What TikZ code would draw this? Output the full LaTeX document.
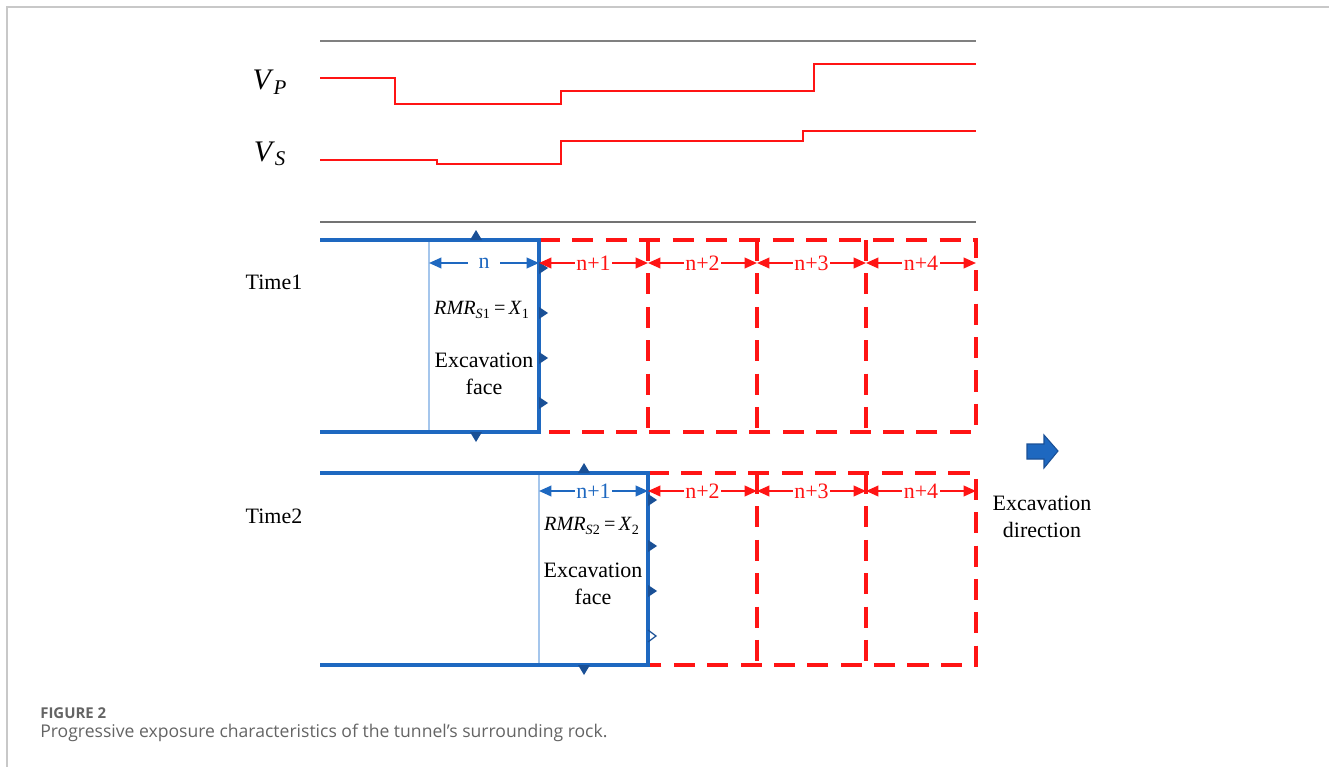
\documentclass[tikz,border=0pt]{standalone}
\usepackage{fontspec}
\setmainfont{Liberation Serif}
\newfontfamily\capfont{Open Sans}
\usetikzlibrary{arrows.meta}

\definecolor{rockblue}{RGB}{30,104,192}
\definecolor{tickblue}{RGB}{26,80,150}
\definecolor{paleblue}{RGB}{165,198,236}
\definecolor{wavered}{RGB}{255,20,20}
\definecolor{framegray}{RGB}{200,200,200}
\definecolor{capgray}{RGB}{100,100,100}

\tikzset{
  solidwall/.style={rockblue, line width=1.75pt},
  thinwall/.style={paleblue, line width=0.8pt},
  dashwall/.style={wavered, line width=1.85pt, dash pattern=on 12pt off 7pt},
  wave/.style={wavered, line width=1.5pt},
  dimblue/.style={rockblue, line width=1.1pt, {Triangle[length=7pt,width=6pt]}-{Triangle[length=7pt,width=6pt]}},
  dimred/.style={wavered, line width=1.1pt, {Triangle[length=7pt,width=6pt]}-{Triangle[length=7pt,width=6pt]}},
  dimlabel/.style={fill=white, inner sep=1pt, font=\fontsize{12.5}{14}\selectfont},
  lbl/.style={font=\fontsize{12.5}{15.3}\selectfont, align=center},
  rmrlbl/.style={inner sep=0pt, font=\fontsize{11.5}{13}\selectfont},
}

\begin{document}
\begin{tikzpicture}[x=0.02cm, y=-0.02cm]
  \useasboundingbox (0,0) rectangle (1329,767);
  % frame of the figure panel
  \draw[framegray, line width=1pt] (7,767) -- (7,7) -- (1329,7);

  % wave velocity curves
  \draw[gray, line width=0.6pt] (320,41) -- (976,41);
  \draw[gray!90!black, line width=1.4pt] (320,222) -- (976,222);
  \node (VP) at (270,82) {\fontsize{17}{20}\selectfont\textit{V}\textsubscript{\textit{P}}};
  \node (VS) at (270,154) {\fontsize{17}{20}\selectfont\textit{V}\textsubscript{\textit{S}}};
  \draw[wave] (320,78) -- (395,78) -- (395,104) -- (561,104) -- (561,91) -- (814,91) -- (814,64) -- (976,64);
  \draw[wave] (320,160) -- (437,160) -- (437,164) -- (561,164) -- (561,141) -- (803,141) -- (803,131) -- (976,131);

  % grid of excavation rounds
  \foreach \i/\x in {0/320,1/429,2/539,3/648,4/757,5/866,6/976} {
    \coordinate (top1-\i) at (\x,240); \coordinate (bot1-\i) at (\x,432); \coordinate (dim1-\i) at (\x,263);
    \coordinate (top2-\i) at (\x,473); \coordinate (bot2-\i) at (\x,665); \coordinate (dim2-\i) at (\x,491);
  }

  % Time1
  \node[lbl] (time1) at (274,282) {Time1};
  \draw[thinwall] (top1-1) -- (bot1-1);
  \draw[dashwall] (top1-2) -- (top1-6) -- (bot1-6) -- (bot1-2);
  \foreach \i in {3,4,5} \draw[dashwall] (top1-\i) -- (bot1-\i);
  \draw[solidwall] (top1-0) -- (top1-2) -- (bot1-2) -- (bot1-0);
  \fill[tickblue] (470,240) -- (476,230) -- (482,240) -- cycle;
  \fill[tickblue] (470,432) -- (476,442) -- (482,432) -- cycle;
  \foreach \y in {268,313,358,403} \fill[tickblue] (539,\y-6) -- (548,\y) -- (539,\y+6) -- cycle;
  \draw[dimblue] (dim1-1) -- node[dimlabel, text=rockblue, inner xsep=6pt] {n} (dim1-2);
  \draw[dimred] (dim1-2) -- node[dimlabel, text=wavered] {n+1} (dim1-3);
  \draw[dimred] (dim1-3) -- node[dimlabel, text=wavered] {n+2} (dim1-4);
  \draw[dimred] (dim1-4) -- node[dimlabel, text=wavered] {n+3} (dim1-5);
  \draw[dimred] (dim1-5) -- node[dimlabel, text=wavered] {n+4} (dim1-6);
  \node[rmrlbl] (rmr1) at (482,310) {\textit{RMR}\textsubscript{\textit{S}1}\,=\,\textit{X}\textsubscript{1}};
  \node[lbl] (face1) at (484,374) {Excavation\\face};

  % Time2
  \node[lbl] (time2) at (274,516) {Time2};
  \draw[thinwall] (top2-2) -- (bot2-2);
  \draw[dashwall] (top2-3) -- (top2-6) -- (bot2-6) -- (bot2-3);
  \foreach \i in {4,5} \draw[dashwall] (top2-\i) -- (bot2-\i);
  \draw[solidwall] (top2-0) -- (top2-3) -- (bot2-3) -- (bot2-0);
  \fill[tickblue] (578,473) -- (584,463) -- (590,473) -- cycle;
  \fill[tickblue] (578,665) -- (584,675) -- (590,665) -- cycle;
  \foreach \y in {500,546,591} \fill[tickblue] (648,\y-6) -- (657,\y) -- (648,\y+6) -- cycle;
  \draw[tickblue, line width=0.7pt] (648,630) -- (656,636) -- (648,642);
  \draw[dimblue] (dim2-2) -- node[dimlabel, text=rockblue] {n+1} (dim2-3);
  \draw[dimred] (dim2-3) -- node[dimlabel, text=wavered] {n+2} (dim2-4);
  \draw[dimred] (dim2-4) -- node[dimlabel, text=wavered] {n+3} (dim2-5);
  \draw[dimred] (dim2-5) -- node[dimlabel, text=wavered] {n+4} (dim2-6);
  \node[rmrlbl] (rmr2) at (592,526) {\textit{RMR}\textsubscript{\textit{S}2}\,=\,\textit{X}\textsubscript{2}};
  \node[lbl] (face2) at (593,584) {Excavation\\face};

  % direction of advance
  \filldraw[fill=rockblue, draw=tickblue, line width=0.6pt]
    (1027,444) -- (1044,444) -- (1044,435) -- (1058,451) -- (1044,468) -- (1044,459) -- (1027,459) -- cycle;
  \node[lbl] (dir) at (1042,517) {Excavation\\direction};

  % caption
  \node[anchor=west, inner sep=0pt, text=capgray, font=\capfont\fontsize{8.5}{10}\selectfont\bfseries] (fig) at (40,713) {FIGURE 2};
  \node[anchor=west, inner sep=0pt, text=capgray, font=\capfont\fontsize{10}{12}\selectfont] (cap) at (40,733) {Progressive exposure characteristics of the tunnel’s surrounding rock.};
\end{tikzpicture}
\end{document}
